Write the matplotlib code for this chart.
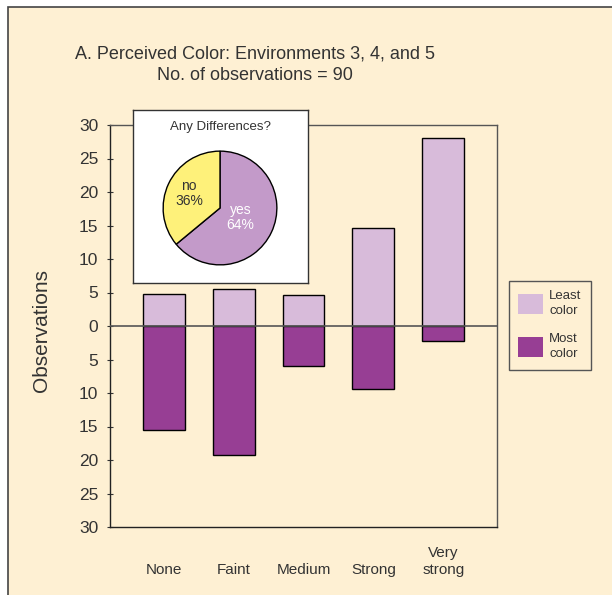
import numpy as np
import matplotlib
matplotlib.use("Agg")
import matplotlib.pyplot as plt
from matplotlib.patches import Rectangle, Patch
import matplotlib.transforms as mtransforms

plt.rcParams['font.family'] = ['Liberation Sans', 'DejaVu Sans']

# data
categories = ['None', 'Faint', 'Medium', 'Strong', 'Very\nstrong']
least_color = [4.8, 5.5, 4.6, 14.6, 28.0]
most_color = [15.5, 19.3, 6.0, 9.4, 2.3]
pie_labels = ['yes', 'no']
pie_values = [64, 36]
yticks = [-30, -25, -20, -15, -10, -5, 0, 5, 10, 15, 20, 25, 30]

BG = '#FEF0D3'
LIGHT = '#D8BBDA'
DARK = '#973E94'
TXT = '#333333'

W, H = 612, 595
fig = plt.figure(figsize=(W / 100, H / 100), dpi=100, facecolor='white')

# cream panel with frame
fig.patches.append(Rectangle((8 / W, -0.1), 1.2, 1 - 7 / H + 0.1, transform=fig.transFigure,
                             facecolor=BG, edgecolor='#444444', lw=1.2, zorder=-5))

ax = fig.add_axes([110 / W, 1 - 527 / H, 387 / W, 402 / H])
ax.set_facecolor(BG)
x = np.arange(len(categories))
ax.bar(x, least_color, width=0.6, color=LIGHT, edgecolor='black', lw=1, zorder=2)
ax.bar(x, [-v for v in most_color], width=0.6, color=DARK, edgecolor='black', lw=1, zorder=2)
ax.axhline(0, color='#555555', lw=1.2, zorder=3)
ax.set_xlim(-0.77, 4.77)
ax.set_ylim(-30, 30)
ax.set_yticks(yticks)
ax.set_yticklabels([str(abs(t)) for t in yticks], fontsize=12.5, color=TXT)
ax.tick_params(axis='y', direction='inout', length=5, pad=6, color='#333333')
ax.set_xticks([])
for s in ax.spines.values():
    s.set_color('#555555')
    s.set_linewidth(1)
ax.spines['left'].set_color('#222222')
ax.spines['bottom'].set_color('#222222')

trans = mtransforms.blended_transform_factory(ax.transData, ax.transAxes)
for xi, lab in zip(x, categories):
    ax.text(xi, -0.124, lab, transform=trans, ha='center', va='bottom',
            fontsize=11, color=TXT, linespacing=1.3)

fig.text(42 / W, 1 - 331 / H, 'Observations', rotation=90, ha='center', va='center',
         fontsize=15, color=TXT)
fig.text(255 / W, 1 - 65 / H, 'A. Perceived Color: Environments 3, 4, and 5\nNo. of observations = 90',
         ha='center', va='center', fontsize=13, color=TXT, linespacing=1.35)

# legend
handles = [Patch(facecolor=LIGHT, edgecolor='none'), Patch(facecolor=DARK, edgecolor='none')]
leg = fig.legend(handles, ['Least\ncolor', 'Most\ncolor'], loc='upper left',
                 bbox_to_anchor=(509 / W, 1 - 281 / H), fontsize=9.5, frameon=True,
                 fancybox=False, edgecolor='#555555', facecolor=BG, framealpha=1,
                 handlelength=1.9, handleheight=1.9, handletextpad=0.45,
                 labelspacing=1.2, borderpad=0.7, borderaxespad=0)
leg.get_frame().set_linewidth(1)
for t in leg.get_texts():
    t.set_color(TXT)
    t.set_linespacing(1.35)

# inset pie box
box = fig.add_axes([133 / W, 1 - 283 / H, 175 / W, 173 / H])
box.set_facecolor('white')
box.set_xticks([])
box.set_yticks([])
for s in box.spines.values():
    s.set_color('#333333')
    s.set_linewidth(1)
box.text(0.5, 0.9, 'Any Differences?', transform=box.transAxes, ha='center', va='center',
         fontsize=9.5, color=TXT)
box.set_zorder(5)

pax = fig.add_axes([162 / W, 1 - 266 / H, 116 / W, 116 / H])
pax.set_zorder(6)
wedges, _ = pax.pie(pie_values, colors=['#C39AC9', '#FEF17A'], startangle=90, counterclock=False,
                    wedgeprops=dict(edgecolor='black', linewidth=1))
pax.set_xlim(-1.02, 1.02)
pax.set_ylim(-1.02, 1.02)
pax.set_aspect('equal')
for w, lab, val, dist, col in zip(wedges, pie_labels, pie_values, [0.4, 0.6], ['white', TXT]):
    ang = np.deg2rad((w.theta1 + w.theta2) / 2)
    pax.text(dist * np.cos(ang), dist * np.sin(ang), f'{lab}\n{val}%', ha='center', va='center',
             fontsize=10, color=col, linespacing=1.05)

fig.savefig('out.png', dpi=100, facecolor=fig.get_facecolor())
